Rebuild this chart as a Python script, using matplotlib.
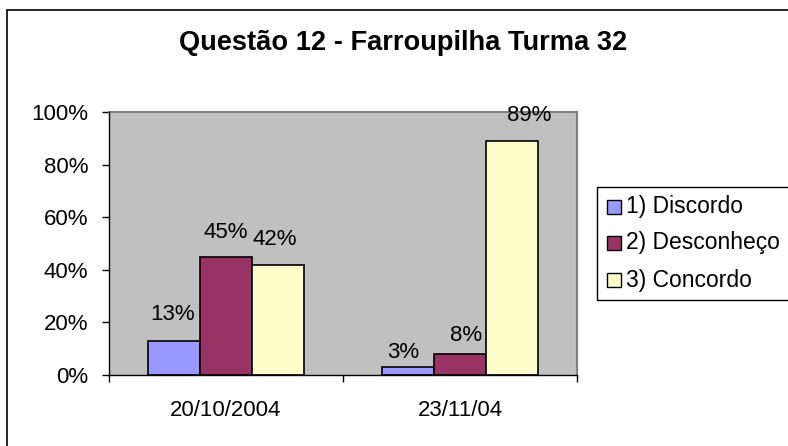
import matplotlib
matplotlib.use("Agg")
import matplotlib.pyplot as plt
from matplotlib.patches import Rectangle
from matplotlib.ticker import FixedLocator, NullFormatter, FixedFormatter

# --- data ---
title = "Questão 12 - Farroupilha Turma 32"
dates = ["20/10/2004", "23/11/04"]
series_names = ["1) Discordo", "2) Desconheço", "3) Concordo"]
discordo = [13, 3]
desconheco = [45, 8]
concordo = [42, 89]
y_ticks = [0, 20, 40, 60, 80, 100]
y_tick_labels = ["0%", "20%", "40%", "60%", "80%", "100%"]

# --- style ---
colors = ["#9999FF", "#993366", "#FFFFCC"]
plot_bg = "#C0C0C0"
FONT = "Liberation Sans"
FS = 16
# value-label offsets from the top of each bar, in pixels (dx, dy)
nudges = {
    0: [(-1, 26), (-5, 15)],
    1: [(0, 24), (6, 18)],
    2: [(-3, 25), (17, 25)],
}

W, H, DPI = 788, 446, 100
fig = plt.figure(figsize=(W / DPI, H / DPI), dpi=DPI)
fig.patch.set_facecolor("white")

def px(x0, y0, x1, y1):
    """pixel box (top-left origin) -> figure fraction [left, bottom, width, height]"""
    return [x0 / W, 1 - y1 / H, (x1 - x0) / W, (y1 - y0) / H]

ax = fig.add_axes(px(109, 112, 577, 375))
ax.set_facecolor(plot_bg)

values = [discordo, desconheco, concordo]
bar_w = 1 / 4.5
centers = [0.5 + i for i in range(len(dates))]
pt_per_px = 72 / DPI

for s, (vals, col) in enumerate(zip(values, colors)):
    xs = [c + (s - 1) * bar_w for c in centers]
    ax.bar(xs, vals, width=bar_w, color=col, edgecolor="black",
           linewidth=1.2, zorder=3)
    for j, (x, v) in enumerate(zip(xs, vals)):
        dx, dy = nudges[s][j]
        ax.annotate(f"{v}%", (x, v), xytext=(dx * pt_per_px, dy * pt_per_px),
                    textcoords="offset points", ha="center", va="center",
                    fontsize=FS, family=FONT, color="black",
                    annotation_clip=False, zorder=4)

ax.set_xlim(0, len(dates))
ax.set_ylim(0, 100)

# y axis
ax.set_yticks(y_ticks)
ax.set_yticklabels(y_tick_labels, fontsize=FS, family=FONT)
ax.tick_params(axis="y", direction="out", length=5, width=1, pad=10,
               color="black")

# x axis: boundary ticks, labels centered on categories
ax.xaxis.set_major_locator(FixedLocator(list(range(len(dates) + 1))))
ax.xaxis.set_major_formatter(NullFormatter())
ax.xaxis.set_minor_locator(FixedLocator(centers))
ax.xaxis.set_minor_formatter(FixedFormatter(dates))
ax.tick_params(axis="x", which="major", direction="out", length=5, width=1,
               color="black")
ax.tick_params(axis="x", which="minor", length=0, pad=18, labelsize=FS)
for lbl in ax.get_xticklabels(minor=True):
    lbl.set_family(FONT)

for side in ("left", "bottom"):
    ax.spines[side].set_color("black")
    ax.spines[side].set_linewidth(1.0)
    ax.spines[side].set_zorder(5)
for side in ("top", "right"):
    ax.spines[side].set_color("#808080")
    ax.spines[side].set_linewidth(1.5)

# title
fig.text(403 / W, 1 - 43 / H, title, ha="center", va="center",
         fontsize=19.6, fontweight="bold", family=FONT)

# legend (frame runs past the right edge)
fig.add_artist(Rectangle((597 / W, 1 - 300 / H), 220 / W, 113 / H,
                         transform=fig.transFigure, facecolor="white",
                         edgecolor="black", linewidth=1.0, clip_on=False))
row_y = [207, 243, 280]
for name, col, yc in zip(series_names, colors, row_y):
    fig.add_artist(Rectangle((607 / W, 1 - (yc + 7) / H), 14 / W, 14 / H,
                             transform=fig.transFigure, facecolor=col,
                             edgecolor="black", linewidth=1.0))
    fig.text(626 / W, 1 - yc / H, name, ha="left", va="center",
             fontsize=16.5, family=FONT)

# chart border (only top and left edges fall inside the image)
fig.add_artist(Rectangle((7 / W, -20 / H), 820 / W, (446 - 10 + 20) / H,
                         transform=fig.transFigure, facecolor="none",
                         edgecolor="black", linewidth=1.2, clip_on=False))

fig.savefig("out.png", dpi=DPI)
